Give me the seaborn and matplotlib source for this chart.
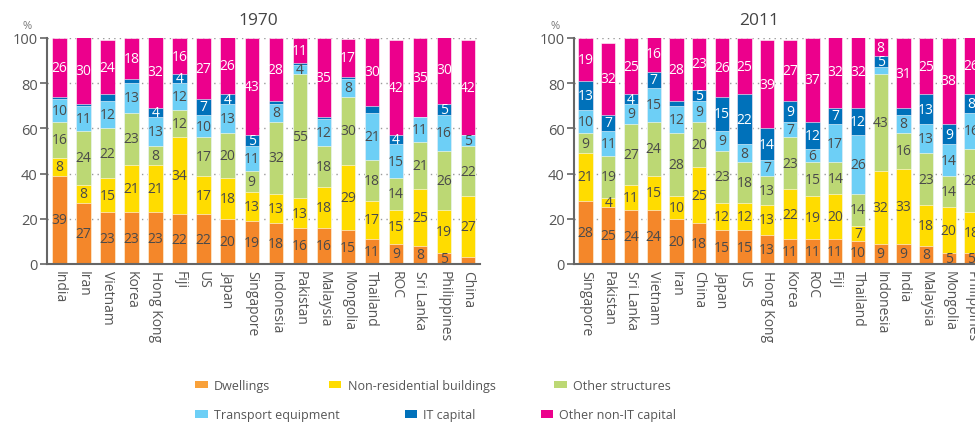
import matplotlib
matplotlib.use("Agg")
import matplotlib.pyplot as plt
import seaborn as sns
import pandas as pd
import numpy as np
from matplotlib.patches import Patch

sns.set_theme(style="white")
plt.rcParams['font.family'] = ['Open Sans', 'DejaVu Sans']

series = ["Dwellings", "Non-residential buildings", "Other structures",
          "Transport equipment", "IT capital", "Other non-IT capital"]
colors = ["#F4872A", "#FFDC00", "#BCD874", "#6DCFF6", "#0071BA", "#EC008C"]
label_colors = ["#4a4a4a", "#4a4a4a", "#4a4a4a", "#4a4a4a", "white", "white"]

# 1970
countries_1970 = ["India", "Iran", "Vietnam", "Korea", "Hong Kong", "Fiji", "US", "Japan",
                  "Singapore", "Indonesia", "Pakistan", "Malaysia", "Mongolia", "Thailand",
                  "ROC", "Sri Lanka", "Philippines", "China"]
dwell_1970 = [39, 27, 23, 23, 23, 22, 22, 20, 19, 18, 16, 16, 15, 11, 9, 8, 5, 3]
nonres_1970 = [8, 8, 15, 21, 21, 34, 17, 18, 13, 13, 13, 18, 29, 17, 15, 25, 19, 27]
othstr_1970 = [16, 24, 22, 23, 8, 12, 17, 20, 9, 32, 55, 18, 30, 18, 14, 21, 26, 22]
transp_1970 = [10, 11, 12, 13, 13, 12, 10, 13, 11, 8, 4, 12, 8, 21, 15, 11, 16, 5]
it_1970 = [1, 0.7, 3, 2, 4, 4, 7, 4, 5, 1, 1, 1, 0.7, 3, 4, 0, 5, 0]
othnonit_1970 = [26, 30, 24, 18, 32, 16, 27, 26, 43, 28, 11, 35, 17, 30, 42, 35, 30, 42]

# 2011
countries_2011 = ["Singapore", "Pakistan", "Sri Lanka", "Vietnam", "Iran", "China", "Japan",
                  "US", "Hong Kong", "Korea", "ROC", "Fiji", "Thailand", "Indonesia", "India",
                  "Malaysia", "Mongolia", "Philippines"]
dwell_2011 = [28, 25, 24, 24, 20, 18, 15, 15, 13, 11, 11, 11, 10, 9, 9, 8, 5, 5]
nonres_2011 = [21, 4, 11, 15, 10, 25, 12, 12, 13, 22, 19, 20, 7, 32, 33, 18, 20, 18]
othstr_2011 = [9, 19, 27, 24, 28, 20, 23, 18, 13, 23, 15, 14, 14, 43, 16, 23, 14, 28]
transp_2011 = [10, 11, 9, 15, 12, 9, 9, 8, 7, 7, 6, 17, 26, 3, 8, 13, 14, 16]
it_2011 = [13, 7, 4, 7, 2, 5, 15, 22, 14, 9, 12, 7, 12, 5, 3, 13, 9, 8]
othnonit_2011 = [19, 32, 25, 16, 28, 23, 26, 25, 39, 27, 37, 32, 32, 8, 31, 25, 38, 26]

fig = plt.figure(figsize=(9.75, 4.27), dpi=100)
ax1 = fig.add_axes([0.0487, 0.3794, 0.4436, 0.5293])
ax2 = fig.add_axes([0.589, 0.3794, 0.419, 0.5293])


def draw(ax, countries, layers, width, title, title_x):
    df = pd.DataFrame({"country": countries})
    for name, vals in zip(series, layers):
        df[name] = vals
    cum = df[series].cumsum(axis=1)
    for i in range(len(series) - 1, -1, -1):
        sns.barplot(x=df["country"], y=cum[series[i]], order=countries, color=colors[i],
                    saturation=1, width=width, ax=ax, edgecolor="#ffffff",
                    linewidth=0.4, zorder=2)
    # value labels
    for j in range(len(countries)):
        bottom = 0
        for i, name in enumerate(series):
            v = df[name].iloc[j]
            if v >= 4:
                ax.text(j, bottom + v / 2, f"{v:.0f}", ha="center", va="center",
                        fontsize=10, color=label_colors[i], zorder=5)
            bottom += v
    ax.set_ylim(0, 100)
    ax.set_xlim(-0.5, 17.5)
    ax.set_yticks([0, 20, 40, 60, 80, 100])
    ax.set_xlabel("")
    ax.set_ylabel("")
    ax.set_xticks(range(len(countries)))
    ax.set_xticklabels(countries, rotation=270, fontsize=10, color="#555555")
    ax.tick_params(axis="x", length=0, pad=4)
    ax.tick_params(axis="y", length=5, width=1.2, color="#666666", labelsize=10.5,
                   labelcolor="#555555", pad=2, left=True)
    for g in [20, 40, 60, 80, 100]:
        ax.axhline(g, color="#9a9a9a", lw=1.0, ls=(0, (1, 3)), zorder=1)
    sns.despine(ax=ax)
    for s in ["left", "bottom"]:
        ax.spines[s].set_color("#666666")
        ax.spines[s].set_linewidth(1.5)
    ax.spines["left"].set_zorder(6)
    ax.spines["bottom"].set_zorder(6)
    ax.set_title(title, fontsize=12.5, color="#444444", x=title_x, pad=10)
    ax.text(-0.048, 1.055, "%", transform=ax.transAxes, fontsize=8, color="#777777",
            ha="center", va="center")


draw(ax1, countries_1970,
     [dwell_1970, nonres_1970, othstr_1970, transp_1970, it_1970, othnonit_1970],
     0.6, "1970", 0.487)
draw(ax2, countries_2011,
     [dwell_2011, nonres_2011, othstr_2011, transp_2011, it_2011, othnonit_2011],
     0.63, "2011", 0.452)

legend_colors = ["#F9A13A", "#FFDC00", "#BCD874", "#6DCFF6", "#0071BA", "#EC008C"]
handles = [Patch(facecolor=c, edgecolor="none") for c in legend_colors]
kw = dict(frameon=False, fontsize=9, handlelength=1.0, handleheight=0.5,
          handletextpad=0.5, borderpad=0, borderaxespad=0,
          loc="center left", labelcolor="#555555")
fig.legend(handles[:3], series[:3], ncol=3, bbox_to_anchor=(0.2, 0.096),
           columnspacing=4.7, **kw)
fig.legend(handles[3:], series[3:], ncol=3, bbox_to_anchor=(0.2, 0.026),
           columnspacing=5.2, **kw)

fig.savefig("out.png", dpi=100)
